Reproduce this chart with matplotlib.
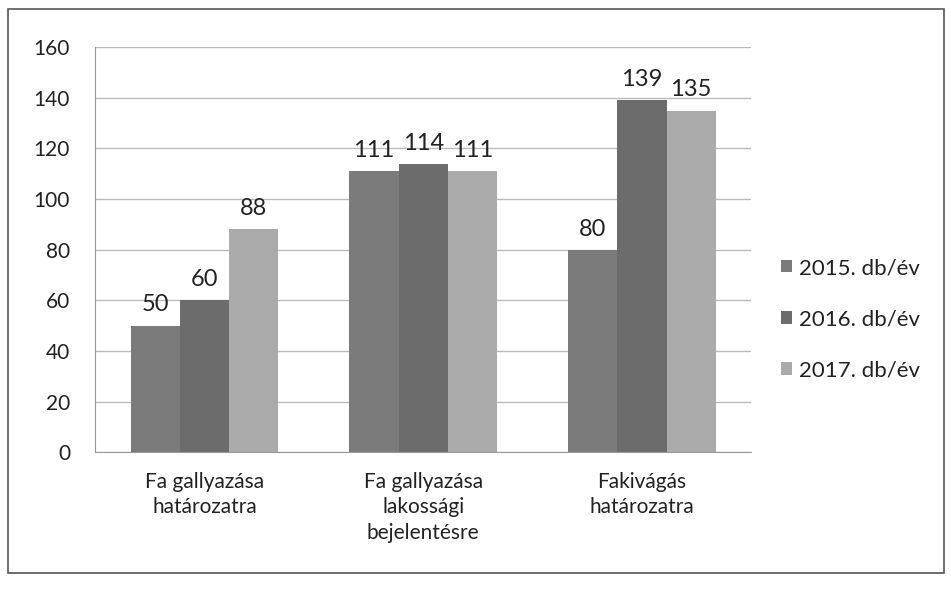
import matplotlib
matplotlib.use("Agg")
import matplotlib.pyplot as plt
import numpy as np

categories = ["Fa gallyazása\nhatározatra", "Fa gallyazása\nlakossági\nbejelentésre", "Fakivágás\nhatározatra"]
series_names = ["2015. db/év", "2016. db/év", "2017. db/év"]
v2015 = [50, 111, 80]
v2016 = [60, 114, 139]
v2017 = [88, 111, 135]
yticks = [0, 20, 40, 60, 80, 100, 120, 140, 160]
colors = ["#7b7b7b", "#6c6c6c", "#aaaaaa"]

plt.rcParams['font.family'] = ['Lato', 'DejaVu Sans']

fig = plt.figure(figsize=(9.51, 5.91), dpi=100)
ax = fig.add_axes([0.10, 0.235, 0.69, 0.685])

x = np.arange(len(categories))
w = 0.225
for i, (vals, name, c) in enumerate(zip([v2015, v2016, v2017], series_names, colors)):
    bars = ax.bar(x + (i - 1) * w, vals, w, color=c, label=name, zorder=2)
    for b, v in zip(bars, vals):
        ax.text(b.get_x() + b.get_width() / 2, v + 4, str(v), ha='center', va='bottom',
                fontsize=17, color='#222222', zorder=3)

ax.set_ylim(0, 160)
ax.set_xlim(-0.5, 2.5)
ax.set_yticks(yticks)
ax.set_yticklabels([str(t) for t in yticks], fontsize=15, color='#222222')
ax.set_xticks(x)
ax.set_xticklabels(categories, fontsize=15, color='#222222', linespacing=1.35)
ax.tick_params(axis='x', length=0, pad=14)
ax.tick_params(axis='y', length=0, pad=18)
ax.grid(axis='y', color='#bbbbbb', linewidth=1, zorder=0)
for s in ['top', 'right']:
    ax.spines[s].set_visible(False)
ax.spines['left'].set_color('#999999')
ax.spines['bottom'].set_color('#999999')

leg = fig.legend(loc='center left', bbox_to_anchor=(0.80, 0.46), frameon=False,
                 fontsize=16, handlelength=0.5, handleheight=0.5, handletextpad=0.3,
                 labelspacing=1.4, labelcolor='#222222')

fig.patches.append(plt.Rectangle((0.008, 0.03), 0.985, 0.955, transform=fig.transFigure,
                                 fill=False, edgecolor='#555555', linewidth=1.2))
fig.savefig("out.png", dpi=100)
